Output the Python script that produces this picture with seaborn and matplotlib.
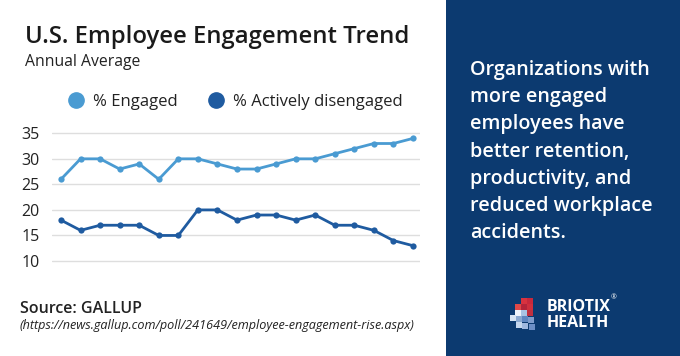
import matplotlib
matplotlib.use('Agg')
import pandas as pd
import matplotlib.pyplot as plt
import seaborn as sns
from matplotlib.lines import Line2D
from matplotlib.patches import Rectangle

years = list(range(2000, 2019))
engaged = [26, 30, 30, 28, 29, 26, 30, 30, 29, 28, 28, 29, 30, 30, 31, 32, 33, 33, 34]
disengaged = [18, 16, 17, 17, 17, 15, 15, 20, 20, 18, 19, 19, 18, 19, 17, 17, 16, 14, 13]
series_names = ['% Engaged', '% Actively disengaged']
y_ticks = [10, 15, 20, 25, 30, 35]

LIGHT = '#4a9bd2'
DARK = '#1f5ba0'
PANEL = '#0c3a70'

df = pd.DataFrame({
    'year': years * 2,
    'value': engaged + disengaged,
    'series': [series_names[0]] * len(years) + [series_names[1]] * len(years),
})

sns.set_style('white')
plt.rcParams['font.family'] = ['Open Sans', 'DejaVu Sans']

fig = plt.figure(figsize=(6.8, 3.56), dpi=100)
W, H = 680, 356

# chart axes
ax = fig.add_axes([52 / W, 1 - 275 / H, 368 / W, 155 / H])
sns.lineplot(data=df, x='year', y='value', hue='series', ax=ax,
             palette={series_names[0]: LIGHT, series_names[1]: DARK},
             marker='o', markersize=4.5, markeredgewidth=0, linewidth=2,
             legend=False)
ax.set_xlim(years[0] - 0.46, years[-1] + 0.36)
ax.set_ylim(7.26, 37.6)
ax.set_yticks(y_ticks)
ax.set_xticks([])
ax.set_xlabel('')
ax.set_ylabel('')
ax.grid(axis='y', color='#dedede', linewidth=1)
ax.set_axisbelow(True)
for s in ax.spines.values():
    s.set_visible(False)
ax.tick_params(axis='y', length=0, pad=9, labelsize=11.5, labelcolor='#222222')

# legend
handles = [Line2D([], [], marker='o', linestyle='', markersize=11, color=LIGHT),
           Line2D([], [], marker='o', linestyle='', markersize=11, color=DARK)]
fig.legend(handles, series_names, loc='center left', bbox_to_anchor=(53 / W, 1 - 102 / H),
           ncol=2, frameon=False, fontsize=12, handlelength=1.0, handletextpad=0.5,
           columnspacing=1.8, labelcolor='#222222')

# titles
fig.text(25 / W, 1 - 43 / H, 'U.S. Employee Engagement Trend', fontsize=17.2,
         fontweight='semibold', color='#1a1a1a', va='baseline')
fig.text(25 / W, 1 - 66 / H, 'Annual Average', fontsize=11.3, color='#222222', va='baseline')
fig.text(20 / W, 1 - 313 / H, 'Source: GALLUP', fontsize=11.5, fontweight='semibold',
         color='#222222', va='baseline')
fig.text(20 / W, 1 - 329 / H,
         '(https://news.gallup.com/poll/241649/employee-engagement-rise.aspx)',
         fontsize=9.1, style='italic', color='#222222', va='baseline')

# right panel
fig.patches.append(Rectangle((446 / W, 0), 1 - 446 / W, 1, transform=fig.transFigure,
                             facecolor=PANEL, edgecolor='none', zorder=0))
fig.text(470 / W, 1 - 60 / H,
         'Organizations with\nmore engaged\nemployees have\nbetter retention,\n'
         'productivity, and\nreduced workplace\naccidents.',
         fontsize=14.2, fontweight='semibold', color='white', va='top', ha='left',
         linespacing=1.48)

# logo mark
logo_cells = [
    (521, 298, '#d8323f'), (527, 298, '#c8283c'), (515, 304, '#e04848'), (521, 304, '#b5243a'),
    (527, 304, '#cf2f3d'), (515, 310, '#eef3fb'), (521, 310, '#a9c3e3'), (527, 310, '#c03040'),
    (510, 315, '#d5e3f3'), (516, 316, '#8aa8d0'), (522, 316, '#5f86c0'), (528, 317, '#7f9ccb'),
    (516, 322, '#c4d6ee'), (522, 323, '#9fb8df'), (529, 324, '#6d8fc6'),
]
for cx, cy, c in logo_cells:
    fig.patches.append(Rectangle((cx / W, 1 - (cy + 6) / H), 6 / W, 6 / H,
                                 transform=fig.transFigure, facecolor=c,
                                 edgecolor='none', zorder=1))
fig.text(547 / W, 1 - 311 / H, 'BRIOTIX', fontsize=11.5, fontweight='bold', color='white',
         va='baseline')
fig.text(547 / W, 1 - 327 / H, 'HEALTH', fontsize=11.5, fontweight='bold', color='white',
         va='baseline')
fig.text(611 / W, 1 - 299 / H, '®', fontsize=5, color='white', va='baseline')

fig.savefig('out.png', dpi=100)
